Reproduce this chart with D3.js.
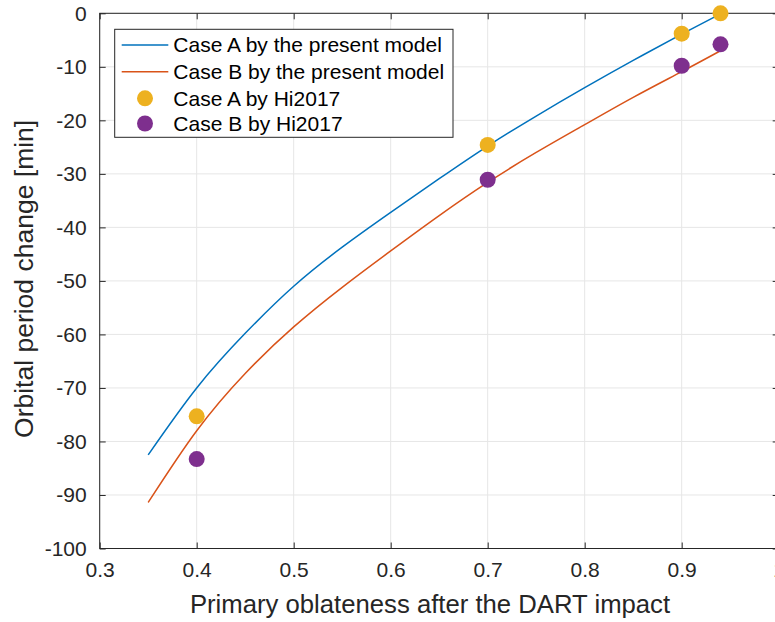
<!DOCTYPE html>
<html>
<head>
<meta charset="utf-8">
<script src="https://cdn.jsdelivr.net/npm/d3@7"></script>
<style>
  html, body { margin: 0; padding: 0; background: #fff; }
  svg { display: block; font-family: "Liberation Sans", Arial, Helvetica, sans-serif; }
</style>
</head>
<body>
<svg id="chart" width="775" height="622"></svg>
<script>
// ---- data ----
const modelX = [0.35, 0.40, 0.45, 0.50, 0.55, 0.60, 0.65, 0.70, 0.75, 0.80, 0.85, 0.90, 0.94];
const caseAModel = [-82.5, -70.0, -59.8, -51.0, -43.7, -37.2, -30.9, -24.8, -19.2, -13.9, -8.8, -3.9, -0.1];
const caseBModel = [-91.4, -78.0, -67.3, -58.6, -51.2, -44.4, -37.8, -31.6, -26.0, -20.8, -15.7, -10.9, -7.0];
const hiX = [0.40, 0.70, 0.90, 0.94];
const caseAHi = [-75.3, -24.6, -3.8, 0.0];
const caseBHi = [-83.3, -31.1, -9.8, -5.8];
const xTicks = [0.3, 0.4, 0.5, 0.6, 0.7, 0.8, 0.9, 1];
const yTicks = [0, -10, -20, -30, -40, -50, -60, -70, -80, -90, -100];
const legendLabels = ["Case A by the present model", "Case B by the present model", "Case A by Hi2017", "Case B by Hi2017"];
const colors = ["#0072BD", "#D95319", "#EDB120", "#7E2F8E"];

(function () {
const svg = d3.select("#chart");
const pL = 99.7, pR = 778.7, pT = 13.3, pB = 548.5;
const x = d3.scaleLinear().domain([0.3, 1]).range([pL, pR]);
const y = d3.scaleLinear().domain([-100, 0]).range([pB, pT]);
const axisColor = "#262626";

// grid
const grid = svg.append("g");
grid.selectAll("line.gx").data(xTicks).join("line").attr("class", "gx")
  .attr("x1", d => x(d)).attr("x2", d => x(d)).attr("y1", pT).attr("y2", pB)
  .attr("stroke", "#e6e6e6").attr("stroke-width", 1);
grid.selectAll("line.gy").data(yTicks).join("line").attr("class", "gy")
  .attr("y1", d => y(d)).attr("y2", d => y(d)).attr("x1", pL).attr("x2", pR)
  .attr("stroke", "#e6e6e6").attr("stroke-width", 1);

// axes (inward ticks, box)
const fmt = d => (d === 1 ? "1" : (d < 0 ? "-" + Math.abs(d) : String(d)));
const xAxis = d3.axisBottom(x).tickValues(xTicks).tickSize(-6).tickSizeOuter(0).tickPadding(14).tickFormat(fmt);
const yAxis = d3.axisLeft(y).tickValues(yTicks).tickSize(-6).tickSizeOuter(0).tickPadding(13).tickFormat(fmt);
const xTop = d3.axisTop(x).tickValues(xTicks).tickSize(-6).tickSizeOuter(0).tickFormat("");
const yRight = d3.axisRight(y).tickValues(yTicks).tickSize(-6).tickSizeOuter(0).tickFormat("");

function styleAxis(g) {
  g.select(".domain").remove();
  g.selectAll(".tick line").attr("stroke", axisColor);
  g.selectAll(".tick text").attr("fill", axisColor).attr("font-size", 21)
    .attr("font-family", "'Liberation Sans', Arial, sans-serif");
}
svg.append("g").attr("transform", `translate(0,${pB})`).call(xAxis).call(styleAxis);
svg.append("g").attr("transform", `translate(${pL},0)`).call(yAxis).call(styleAxis);
svg.append("g").attr("transform", `translate(0,${pT})`).call(xTop).call(styleAxis);
svg.append("g").attr("transform", `translate(${pR},0)`).call(yRight).call(styleAxis);

svg.append("rect").attr("x", pL).attr("y", pT).attr("width", pR - pL).attr("height", pB - pT)
  .attr("fill", "none").attr("stroke", axisColor).attr("stroke-width", 1);

// curves
const line = d3.line().x(d => x(d[0])).y(d => y(d[1])).curve(d3.curveNatural);
svg.append("path").datum(modelX.map((v, i) => [v, caseAModel[i]]))
  .attr("d", line).attr("fill", "none").attr("stroke", colors[0]).attr("stroke-width", 1.5);
svg.append("path").datum(modelX.map((v, i) => [v, caseBModel[i]]))
  .attr("d", line).attr("fill", "none").attr("stroke", colors[1]).attr("stroke-width", 1.5);

// markers
svg.append("g").selectAll("circle").data(hiX.map((v, i) => [v, caseAHi[i]])).join("circle")
  .attr("cx", d => x(d[0])).attr("cy", d => y(d[1])).attr("r", 8).attr("fill", colors[2]);
svg.append("g").selectAll("circle").data(hiX.map((v, i) => [v, caseBHi[i]])).join("circle")
  .attr("cx", d => x(d[0])).attr("cy", d => y(d[1])).attr("r", 8).attr("fill", colors[3]);

// axis labels
svg.append("text").attr("x", 430).attr("y", 613).attr("text-anchor", "middle")
  .attr("font-size", 25.7).attr("fill", axisColor).text("Primary oblateness after the DART impact");
svg.append("text").attr("transform", `translate(33,${(pT + pB) / 2 - 2}) rotate(-90)`)
  .attr("text-anchor", "middle").attr("font-size", 26.5).attr("fill", axisColor)
  .text("Orbital period change [min]");

// legend
const lg = svg.append("g");
lg.append("rect").attr("x", 114.7).attr("y", 29.3).attr("width", 338.3).attr("height", 108)
  .attr("fill", "#fff").attr("stroke", axisColor).attr("stroke-width", 1);
const rowY = [45, 71.7, 98.3, 123.5];
legendLabels.forEach((lab, i) => {
  if (i < 2) {
    lg.append("line").attr("x1", 121.7).attr("x2", 168.3).attr("y1", rowY[i]).attr("y2", rowY[i])
      .attr("stroke", colors[i]).attr("stroke-width", 1.5);
  } else {
    lg.append("circle").attr("cx", 145).attr("cy", rowY[i]).attr("r", 8).attr("fill", colors[i]);
  }
  lg.append("text").attr("x", 173.3).attr("y", rowY[i]).attr("dy", "0.35em")
    .attr("font-size", 21).attr("fill", "#000").text(lab);
});
})();
</script>
</body>
</html>
